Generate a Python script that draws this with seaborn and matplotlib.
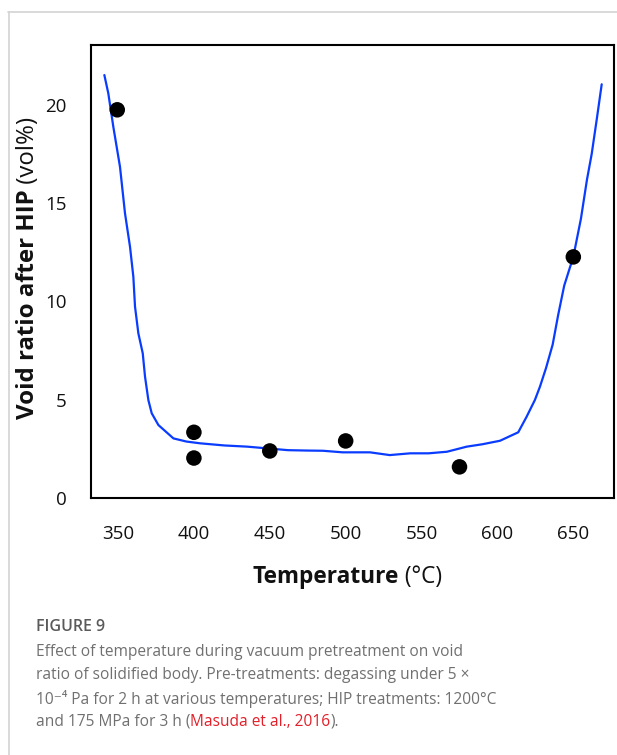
import matplotlib
matplotlib.use("Agg")
import matplotlib.pyplot as plt
import matplotlib.lines as mlines
import seaborn as sns
import pandas as pd

# ---- data ----
point_temp = [349.5, 400, 400, 450, 500, 575, 650]
point_void = [19.75, 3.33, 2.02, 2.38, 2.89, 1.57, 12.26]

curve_temp = [341.0, 343.6, 346.9, 351.3, 354.6, 357.9, 360.1, 361.2, 363.4, 366.3,
              367.8, 370.0, 372.2, 376.6, 386.5, 395, 404, 420, 435, 450, 462, 475,
              485, 498, 516, 529, 542.6, 554.6, 566.7, 579.8, 590, 601.7, 613.7,
              619.2, 624.7, 628, 632, 636.4, 640, 644, 650, 655, 659, 662.1, 665.5, 668.7]
curve_void = [21.52, 20.59, 18.89, 16.85, 14.48, 12.78, 11.25, 9.73, 8.37, 7.35,
              6.16, 4.97, 4.30, 3.70, 3.02, 2.86, 2.77, 2.66, 2.60, 2.50, 2.42, 2.40,
              2.39, 2.31, 2.31, 2.17, 2.26, 2.26, 2.34, 2.60, 2.72, 2.90, 3.33,
              4.12, 4.98, 5.65, 6.6, 7.8, 9.3, 10.8, 12.27, 14.2, 16.2, 17.5, 19.3, 21.05]

x_ticks = [350, 400, 450, 500, 550, 600, 650]
y_ticks = [0, 5, 10, 15, 20]

xlabel_bold, xlabel_reg = "Temperature", " (°C)"
ylabel_bold, ylabel_reg = "Void ratio after HIP", " (vol%)"

caption_title = "FIGURE 9"
caption_lines = [
    "Effect of temperature during vacuum pretreatment on void",
    "ratio of solidified body. Pre-treatments: degassing under 5 ×",
    "10⁻⁴ Pa for 2 h at various temperatures; HIP treatments: 1200°C",
]
caption_last = ["and 175 MPa for 3 h (", "Masuda et al., 2016", ")."]

pts = pd.DataFrame({"temp": point_temp, "void": point_void})
crv = pd.DataFrame({"temp": curve_temp, "void": curve_void})

sns.set_style("white")
FAM = ["Open Sans", "DejaVu Sans"]
plt.rcParams["font.family"] = FAM

W, H = 617, 755
fig = plt.figure(figsize=(W / 100, H / 100), dpi=100)
ax = fig.add_axes([91 / W, 1 - 497.7 / H, (614 - 91) / W, (497.7 - 45) / H])

sns.lineplot(data=crv, x="temp", y="void", ax=ax, color="#0a3cff", lw=1.6,
             sort=False, estimator=None)
sns.scatterplot(data=pts, x="temp", y="void", ax=ax, color="black", s=125,
                edgecolor="none", zorder=5)

ax.set_xlim(332.2, 676.8)
ax.set_ylim(0, 23.05)
ax.set_xticks(x_ticks)
ax.set_yticks(y_ticks)
ax.set_xlabel("")
ax.set_ylabel("")
for sp in ax.spines.values():
    sp.set_visible(True)
    sp.set_color("black")
    sp.set_linewidth(1.5)
ax.tick_params(axis="both", direction="out", length=11.5, width=1.5,
               color="black", labelsize=13.5, labelcolor="#111111", pad=6)
ax.tick_params(axis="x", pad=8)

# card frame lines
fig.add_artist(mlines.Line2D([8 / W, 1], [1 - 12 / H, 1 - 12 / H],
                             transform=fig.transFigure, color="#d3d3d3", lw=1.2))
fig.add_artist(mlines.Line2D([9 / W, 9 / W], [0, 1 - 12 / H],
                             transform=fig.transFigure, color="#d3d3d3", lw=1.2))

fig.canvas.draw()
r = fig.canvas.get_renderer()

# x label (bold + regular)
xb = fig.text(0, 0, xlabel_bold, fontsize=16.3, fontweight="bold", color="#111111",
              va="center", ha="left")
xr = fig.text(0, 0, xlabel_reg, fontsize=16.3, color="#111111", va="center", ha="left")
wb = xb.get_window_extent(r).width
wr = xr.get_window_extent(r).width
cx, cy = 347, H - 577
x0 = cx - (wb + wr) / 2
xb.set_position((x0 / W, cy / H))
xr.set_position(((x0 + wb) / W, cy / H))

# y label (bold + regular), rotated
yb = fig.text(0, 0, ylabel_bold, fontsize=17.3, fontweight="bold", color="#111111",
              rotation=90, va="bottom", ha="center")
yr = fig.text(0, 0, ylabel_reg, fontsize=17.3, color="#111111",
              rotation=90, va="bottom", ha="center")
hb = yb.get_window_extent(r).height
hr = yr.get_window_extent(r).height
ycx, ycy = 28, H - 268
y0 = ycy - (hb + hr) / 2
yb.set_position((ycx / W, y0 / H))
yr.set_position((ycx / W, (y0 + hb) / H))

# caption
cap_x = 36 / W
fig.text(cap_x, 1 - 627 / H, caption_title, fontsize=11.5, fontweight="semibold",
         color="#5a5a5a", va="center", ha="left")
line_y = [651.5, 675, 698.5]
for yy, txt in zip(line_y, caption_lines):
    fig.text(cap_x, 1 - yy / H, txt, fontsize=11.2, color="#707070",
             va="center", ha="left", family=FAM)
xx = 36
for txt, col in zip(caption_last, ["#707070", "#e2202a", "#707070"]):
    t = fig.text(xx / W, 1 - 722 / H, txt, fontsize=11.2, color=col,
                 va="center", ha="left", family=FAM)
    xx += t.get_window_extent(r).width

fig.savefig("out.png", dpi=100)
